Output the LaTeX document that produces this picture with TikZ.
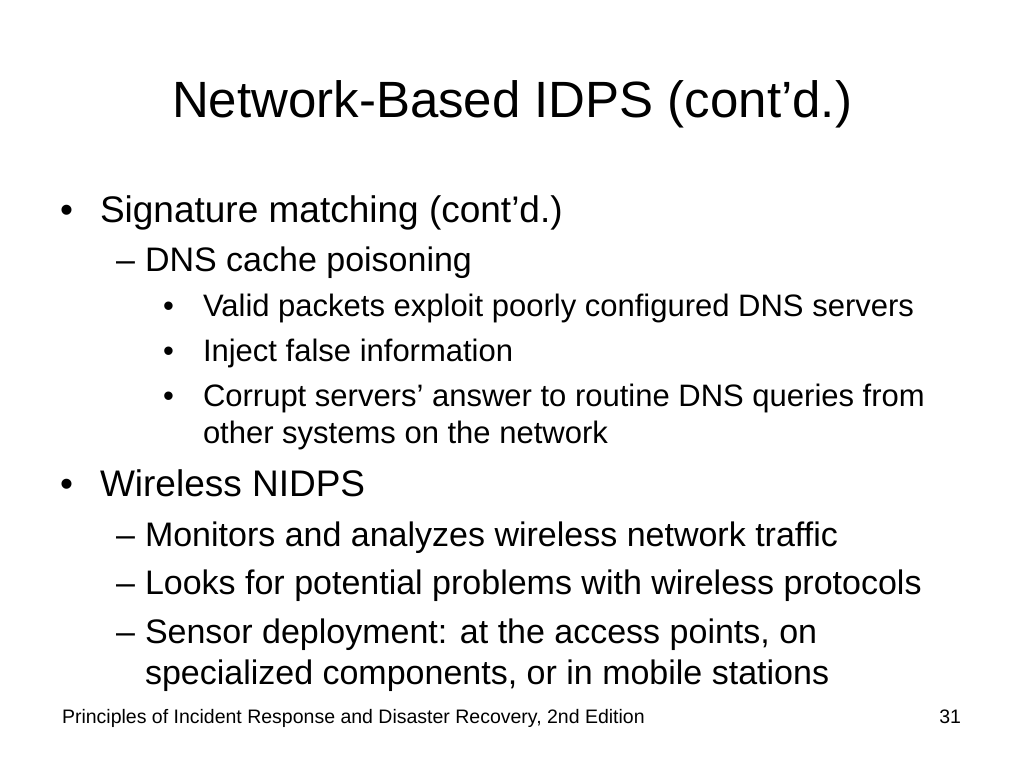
\documentclass[tikz,border=0pt]{standalone}
\usepackage{fontspec}
\setmainfont{Liberation Sans}
\tikzset{
    slidetext/.style = {
        anchor=base west,
        inner sep=0pt,
        outer sep=0pt
    },
    titletext/.style = {slidetext, font=\fontsize{51}{58}\selectfont},
    levelone/.style = {slidetext, font=\fontsize{37}{44}\selectfont},
    leveltwo/.style = {slidetext, font=\fontsize{34}{40}\selectfont},
    levelthree/.style = {slidetext, font=\fontsize{31}{37}\selectfont},
    footertext/.style = {slidetext, font=\fontsize{19.5}{23}\selectfont}
}
\begin{document}
\begin{tikzpicture}[x=1pt, y=-1pt]
    \useasboundingbox[fill=white] (0,0) rectangle (1024,768);
    % title
    \node [titletext] (title) at (172,117) {Network-Based IDPS (cont’d.)};
    % signature matching
    \node [levelone] (b1) at (60,222) {•};
    \node [levelone] (sig) at (100,222) {Signature matching (cont’d.)};
    \node [leveltwo] (d1) at (116,271) {–};
    \node [leveltwo] (dns) at (145,271) {DNS cache poisoning};
    \node [levelthree] (s1) at (163,316) {•};
    \node [levelthree] (valid) at (203,316) {Valid packets exploit poorly configured DNS servers};
    \node [levelthree] (s2) at (163,361) {•};
    \node [levelthree] (inject) at (203,361) {Inject false information};
    \node [levelthree] (s3) at (163,406) {•};
    \node [levelthree] (corrupt) at (203,406) {Corrupt servers’ answer to routine DNS queries from};
    \node [levelthree] (corrupt2) at (203,443) {other systems on the network};
    % wireless
    \node [levelone] (b2) at (60,496) {•};
    \node [levelone] (wire) at (100,496) {Wireless NIDPS};
    \node [leveltwo] (d2) at (116,546) {–};
    \node [leveltwo] (mon) at (145,546) {Monitors and analyzes wireless network traffic};
    \node [leveltwo] (d3) at (116,594) {–};
    \node [leveltwo] (look) at (145,594) {Looks for potential problems with wireless protocols};
    \node [leveltwo] (d4) at (116,643) {–};
    \node [leveltwo] (sens) at (145,643) {Sensor deployment: at the access points, on};
    \node [leveltwo] (sens2) at (145,684) {specialized components, or in mobile stations};
    % footer
    \node [footertext] (foot) at (62,723) {Principles of Incident Response and Disaster Recovery, 2nd Edition};
    \node [footertext, anchor=base east] (page) at (961,723) {31};
\end{tikzpicture}
\end{document}
